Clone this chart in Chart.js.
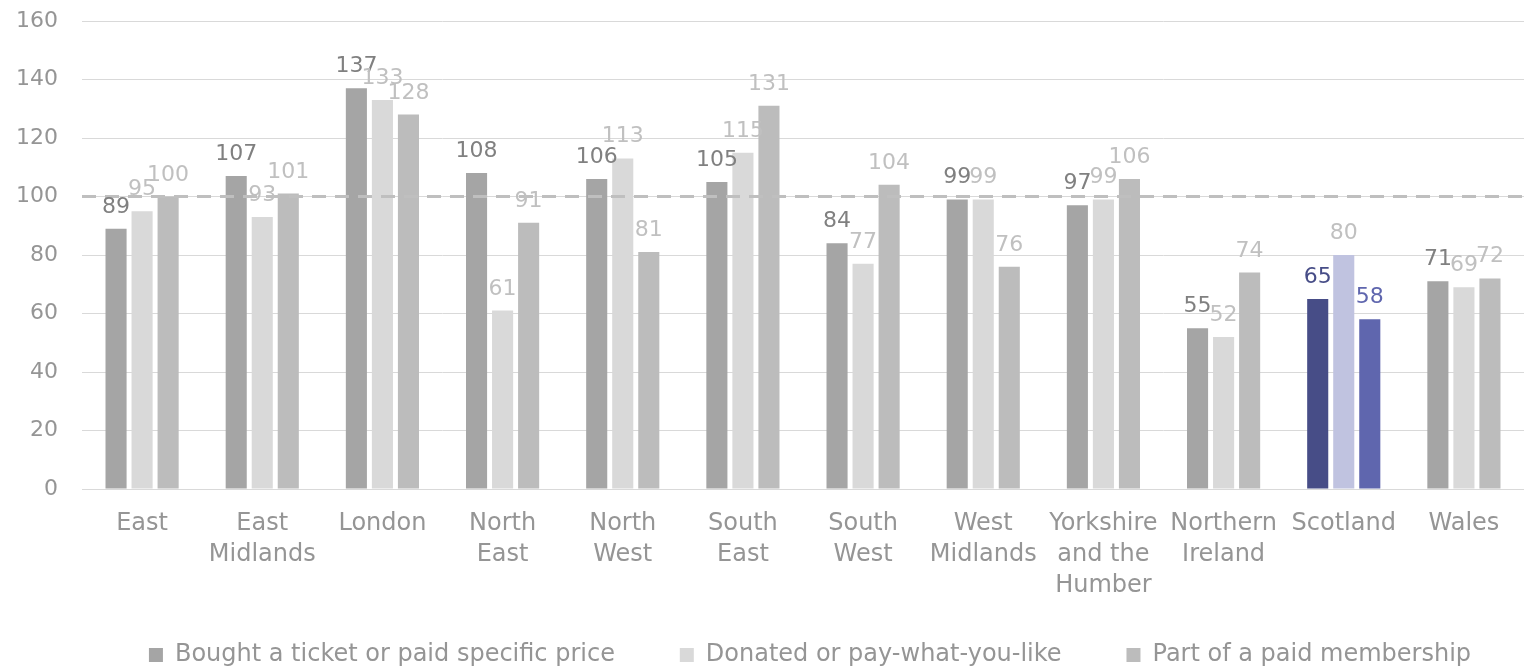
<!DOCTYPE html>
<html>
<head>
<meta charset="utf-8">
<script src="https://cdn.jsdelivr.net/npm/chart.js@4/dist/chart.umd.min.js"></script>
<style>
    html, body { margin: 0; padding: 0; background: #fff; }
    #wrap { width: 1524px; height: 669px; position: relative; }
</style>
</head>
<body>
<div id="wrap"><canvas id="chart"></canvas></div>
<script>
const regions = [
    ['East'], ['East', 'Midlands'], ['London'], ['North', 'East'], ['North', 'West'],
    ['South', 'East'], ['South', 'West'], ['West', 'Midlands'], ['Yorkshire', 'and the', 'Humber'],
    ['Northern', 'Ireland'], ['Scotland'], ['Wales']
];
const boughtTicket = [89, 107, 137, 108, 106, 105, 84, 99, 97, 55, 65, 71];
const donated = [95, 93, 133, 61, 113, 115, 77, 99, 99, 52, 80, 69];
const membership = [100, 101, 128, 91, 81, 131, 104, 76, 106, 74, 58, 72];
const yTicks = [0, 20, 40, 60, 80, 100, 120, 140, 160];
const referenceLine = 100;
const highlightIndex = 10; // Scotland

const FONT = "'DejaVu Sans', sans-serif";
const AXIS_TEXT = '#959595';

// colours per series: normal, highlighted (Scotland)
const seriesStyle = [
    { bar: '#a5a5a5', hi: '#474d87', label: '#808080', hiLabel: '#474d87' },
    { bar: '#d9d9d9', hi: '#c0c3e0', label: '#c0c0c0', hiLabel: '#c0c0c0' },
    { bar: '#bcbcbc', hi: '#5f66ae', label: '#c0c0c0', hiLabel: '#5f66ae' }
];

function colours(style) {
    return regions.map((_, i) => i === highlightIndex ? style.hi : style.bar);
}

// dashed reference line + value labels above bars
const overlayPlugin = {
    id: 'overlay',
    afterLayout(chart) {
        // legend sits a little right of centre in the original
        chart.legend.left += 48;
        chart.legend.right += 48;
    },
    afterDatasetsDraw(chart) {
        const ctx = chart.ctx;
        const area = chart.chartArea;
        const y = chart.scales.y.getPixelForValue(referenceLine);
        ctx.save();
        ctx.strokeStyle = '#bfbfbf';
        ctx.lineWidth = 3;
        ctx.setLineDash([14, 9]);
        ctx.beginPath();
        ctx.moveTo(area.left, y);
        ctx.lineTo(area.right, y);
        ctx.stroke();
        ctx.setLineDash([]);

        ctx.font = '22px ' + FONT;
        ctx.textAlign = 'center';
        ctx.textBaseline = 'alphabetic';
        chart.data.datasets.forEach((ds, di) => {
            const meta = chart.getDatasetMeta(di);
            const st = seriesStyle[di];
            meta.data.forEach((bar, i) => {
                ctx.fillStyle = i === highlightIndex ? st.hiLabel : st.label;
                ctx.fillText(ds.data[i], bar.x, bar.y - 16);
            });
        });
        ctx.restore();
    }
};

new Chart(document.getElementById('chart'), {
    type: 'bar',
    data: {
        labels: regions,
        datasets: [
            { label: 'Bought a ticket or paid specific price', data: boughtTicket, backgroundColor: colours(seriesStyle[0]) },
            { label: 'Donated or pay-what-you-like', data: donated, backgroundColor: colours(seriesStyle[1]) },
            { label: 'Part of a paid membership', data: membership, backgroundColor: colours(seriesStyle[2]) }
        ]
    },
    options: {
        responsive: true,
        maintainAspectRatio: false,
        animation: false,
        categoryPercentage: 0.65,
        barPercentage: 0.81,
        layout: { padding: { top: 21, right: 0, left: 0, bottom: -8 } },
        scales: {
            x: {
                grid: { display: false, drawTicks: false },
                border: { color: '#d9d9d9', width: 1 },
                ticks: {
                    color: AXIS_TEXT,
                    font: { family: FONT, size: 24, lineHeight: 1.3 },
                    padding: 19,
                    maxRotation: 0,
                    autoSkip: false
                },
                afterFit: s => { s.height = 112; }
            },
            y: {
                min: 0,
                max: 160,
                afterBuildTicks: s => { s.ticks = yTicks.map(v => ({ value: v })); },
                grid: { color: '#d9d9d9', lineWidth: 1, drawTicks: false },
                border: { display: false },
                ticks: {
                    color: AXIS_TEXT,
                    font: { family: FONT, size: 22 },
                    padding: 24
                },
                afterFit: s => {
                    s.width = 82;
                    s.paddingTop = 0;
                    s.paddingBottom = 0;
                }
            }
        },
        plugins: {
            legend: {
                position: 'bottom',
                labels: {
                    color: AXIS_TEXT,
                    font: { family: FONT, size: 24 },
                    boxWidth: 14,
                    boxHeight: 14,
                    padding: 42,
                    // trailing spaces widen the gap between entries
                    generateLabels: chart => chart.data.datasets.map((ds, i) => ({
                        text: i < 2 ? ds.label + '   ' : ds.label,
                        fillStyle: seriesStyle[i].bar,
                        strokeStyle: seriesStyle[i].bar,
                        lineWidth: 0,
                        fontColor: AXIS_TEXT,
                        datasetIndex: i
                    }))
                }
            },
            tooltip: { enabled: false }
        }
    },
    plugins: [overlayPlugin]
});
</script>
</body>
</html>
